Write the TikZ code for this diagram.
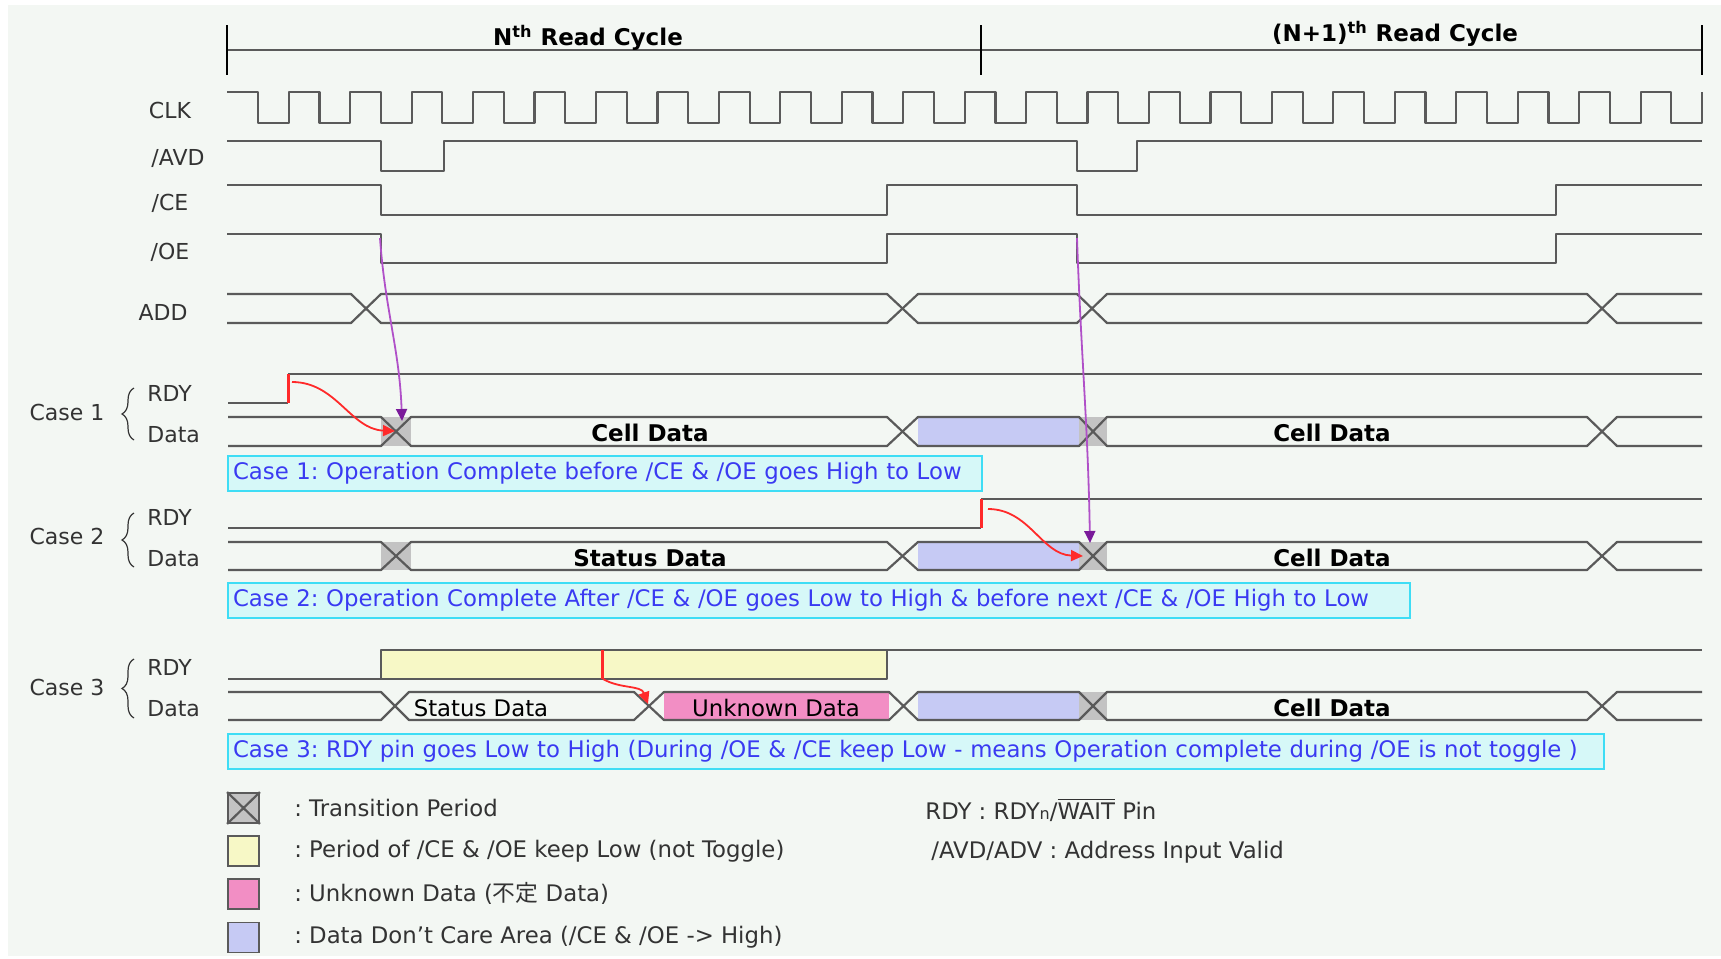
\documentclass[tikz,border=0pt]{standalone}
\usepackage{fontspec}
\setmainfont{DejaVu Sans}
\newfontfamily\jpfont{Noto Sans CJK JP}
\usetikzlibrary{arrows.meta,calc,positioning,decorations.pathreplacing}
\definecolor{Paper}{HTML}{F3F7F3}
\definecolor{Wire}{HTML}{5A5A5A}
\definecolor{Ink}{HTML}{333333}
\definecolor{Trans}{HTML}{C3C3C3}
\definecolor{Lav}{HTML}{C6CAF4}
\definecolor{Rose}{HTML}{F28EC4}
\definecolor{Cream}{HTML}{F7F8C6}
\definecolor{CapFill}{HTML}{D6F8F8}
\definecolor{CapLine}{HTML}{3EDDF5}
\definecolor{CapText}{HTML}{3A3AF2}
\definecolor{Hot}{HTML}{FF2A2A}
\definecolor{Plum}{HTML}{B050C8}
\definecolor{PlumDk}{HTML}{7A1A9A}
\frenchspacing

\begin{document}
\begin{tikzpicture}[x=0.5pt,y=-0.5pt,
  every node/.style={font=\fontsize{11}{13}\selectfont,text=Ink,inner sep=0pt},
  wire/.style={draw=Wire,line width=1.1pt,line join=round},
  hotedge/.style={draw=Hot,line width=1.5pt},
  redarr/.style={-{Triangle[length=6pt,width=5.5pt]},Hot,line width=0.9pt},
  purarr/.style={-{Triangle[length=6pt,width=5.5pt,color=PlumDk]},Plum,line width=0.9pt},
  busname/.style={font=\fontsize{11.5}{13}\selectfont\bfseries,text=black},
  busplain/.style={font=\fontsize{11.4}{13}\selectfont,text=black},
  capbox/.style={draw=CapLine,fill=CapFill,line width=1pt,text=CapText,font=\fontsize{11.4}{13}\selectfont,inner xsep=2.5pt,minimum height=17.5pt,align=left,anchor=west},
  lgbox/.style={draw=Wire,line width=0.9pt,minimum width=15.5pt,minimum height=15pt},
  lgtext/.style={font=\fontsize{11.4}{13}\selectfont,text=Ink},
  brace/.style={draw=Ink,line width=0.6pt,decorate,decoration={brace,amplitude=6pt}}
]
  \useasboundingbox (0,0) rectangle (1721,959);
  \fill[Paper] (8,5) rectangle (1721,956);

  % cycle bar
  \draw[wire] (227,50) -- (1702,50);
  \foreach \x in {227,981,1702} \draw[draw=black,line width=1.1pt] (\x,25) -- (\x,75);
  \node[busname] (cycN) at (588,38) {N\textsuperscript{th} Read Cycle};
  \node[busname] (cycN1) at (1395,34) {(N+1)\textsuperscript{th} Read Cycle};

  % signal names
  \node (clk) at (170,110) {CLK};
  \node (avd) at (178,158) {/AVD};
  \node (ce) at (170,203) {/CE};
  \node (oe) at (170,252) {/OE};
  \node (add) at (163,312) {ADD};

  % CLK
  \draw[wire] (227,92) \foreach \k in {0,...,23} {
    -- ({258+61.45*\k},92) -- ({258+61.45*\k},123) -- ({288.7+61.45*\k},123) -- ({288.7+61.45*\k},92) };
  % /AVD /CE /OE
  \draw[wire] (227,141) -- (381,141) -- (381,171) -- (444,171) -- (444,141) -- (1077,141) -- (1077,171) -- (1137,171) -- (1137,141) -- (1702,141);
  \draw[wire] (227,185) -- (381,185) -- (381,215) -- (887,215) -- (887,185) -- (1077,185) -- (1077,215) -- (1556,215) -- (1556,185) -- (1702,185);
  \draw[wire] (227,234) -- (381,234) -- (381,263) -- (887,263) -- (887,234) -- (1077,234) -- (1077,263) -- (1556,263) -- (1556,234) -- (1702,234);
  % ADD
  \draw[wire] (227,294) -- (351,294) -- (381,323) -- (887,323) -- (918,294) -- (1077,294) -- (1107,323) -- (1587,323) -- (1617,294) -- (1702,294);
  \draw[wire] (227,323) -- (351,323) -- (381,294) -- (887,294) -- (918,323) -- (1077,323) -- (1107,294) -- (1587,294) -- (1617,323) -- (1702,323);

  % case 1
  \node (case1) at (67,412) {Case 1};
  \draw[brace] (134,440) -- (134,388);
  \node[anchor=west] (rdy1) at (147,393) {RDY};
  \node[anchor=west] (dat1) at (147,435) {Data};
  \draw[wire] (228,403) -- (288,403);
  \draw[wire] (288,374) -- (1702,374);
  \draw[hotedge] (288,403) -- (288,374);
  \fill[Trans] (381,417) rectangle (411,446);
  \fill[Lav] (918,417) rectangle (1079,446);
  \fill[Trans] (1079,417) rectangle (1107,446);
  \draw[wire] (228,417) -- (381,417) -- (411,446) -- (887,446) -- (918,417) -- (1079,417) -- (1107,446) -- (1587,446) -- (1617,417) -- (1702,417);
  \draw[wire] (228,446) -- (381,446) -- (411,417) -- (887,417) -- (918,446) -- (1079,446) -- (1107,417) -- (1587,417) -- (1617,446) -- (1702,446);
  \node[busname] (cell1a) at (650,433) {Cell Data};
  \node[busname] (cell1b) at (1332,433) {Cell Data};
  \node[capbox,text width=372pt] (cap1) at (227,473) {Case 1: Operation Complete before /CE \& /OE goes High to Low};

  % case 2
  \node (case2) at (67,536) {Case 2};
  \draw[brace] (134,567) -- (134,513);
  \node[anchor=west] (rdy2) at (147,517) {RDY};
  \node[anchor=west] (dat2) at (147,559) {Data};
  \draw[wire] (228,528) -- (981,528);
  \draw[wire] (981,499) -- (1702,499);
  \draw[hotedge] (981,528) -- (981,499);
  \fill[Trans] (381,542) rectangle (411,570);
  \fill[Lav] (918,542) rectangle (1079,570);
  \fill[Trans] (1079,542) rectangle (1107,570);
  \draw[wire] (228,542) -- (381,542) -- (411,570) -- (887,570) -- (918,542) -- (1079,542) -- (1107,570) -- (1587,570) -- (1617,542) -- (1702,542);
  \draw[wire] (228,570) -- (381,570) -- (411,542) -- (887,542) -- (918,570) -- (1079,570) -- (1107,542) -- (1587,542) -- (1617,570) -- (1702,570);
  \node[busname] (stat2) at (650,558) {Status Data};
  \node[busname] (cell2) at (1332,558) {Cell Data};
  \node[capbox,text width=586pt] (cap2) at (227,600) {Case 2: Operation Complete After /CE \& /OE goes Low to High \& before next /CE \& /OE High to Low};

  % case 3
  \node (case3) at (67,687) {Case 3};
  \draw[brace] (134,718) -- (134,659);
  \node[anchor=west] (rdy3) at (147,667) {RDY};
  \node[anchor=west] (dat3) at (147,709) {Data};
  \draw[wire] (228,679) -- (381,679);
  \draw[wire,fill=Cream] (381,650) rectangle (887,679);
  \draw[wire] (887,650) -- (1702,650);
  \draw[hotedge] (602,650) -- (602,679);
  \fill[Rose] (664,692) rectangle (889,720);
  \fill[Lav] (918,692) rectangle (1079,720);
  \fill[Trans] (1079,692) rectangle (1107,720);
  \draw[wire] (228,692) -- (381,692) -- (409,720) -- (634,720) -- (664,692) -- (889,692) -- (918,720) -- (1079,720) -- (1107,692) -- (1587,692) -- (1617,720) -- (1702,720);
  \draw[wire] (228,720) -- (381,720) -- (409,692) -- (634,692) -- (664,720) -- (889,720) -- (918,692) -- (1079,692) -- (1107,720) -- (1587,720) -- (1617,692) -- (1702,692);
  \node[busplain] (stat3) at (481,708) {Status Data};
  \node[busplain] (unk3) at (776,708) {Unknown Data};
  \node[busname] (cell3) at (1332,708) {Cell Data};
  \node[capbox,text width=683pt] (cap3) at (227,751) {Case 3: RDY pin goes Low to High (During /OE \& /CE keep Low - means Operation complete during /OE is not toggle )};

  % arrows
  \coordinate (oe1) at (380,238);
  \coordinate (d1x) at (402,421);
  \coordinate (oe2) at (1077,238);
  \coordinate (d2x) at (1090,543);
  \coordinate (r1a) at (292,382);
  \coordinate (r1b) at (395,431);
  \coordinate (r2a) at (988,509);
  \coordinate (r2b) at (1083,556);
  \coordinate (r3a) at (603,679);
  \coordinate (r3b) at (648,704);
  \draw[purarr] (oe1) to[out=-86,in=92] (d1x);
  \draw[purarr] (oe2) to[out=-88,in=91] (d2x);
  \draw[redarr] (r1a) to[out=0,in=178] (r1b);
  \draw[redarr] (r2a) to[out=0,in=178] (r2b);
  \draw[redarr] (r3a) to[out=-30,in=110] (r3b);

  % legend
  \node[lgbox,fill=Trans] (lgT) at (243.5,808) {};
  \draw[wire] (lgT.north west) -- (lgT.south east) (lgT.south west) -- (lgT.north east);
  \node[lgbox,fill=Cream,below=5.5pt of lgT] (lgY) {};
  \node[lgbox,fill=Rose,below=5.5pt of lgY] (lgP) {};
  \node[lgbox,fill=Lav,below=6pt of lgP] (lgL) {};
  \node[lgtext,right=17pt of lgT] (lgTt) {: Transition Period};
  \node[lgtext,right=17pt of lgY] (lgYt) {: Period of /CE \& /OE keep Low (not Toggle)};
  \node[lgtext,right=17pt of lgP] (lgPt) {: Unknown Data ({\jpfont 不定} Data)};
  \node[lgtext,right=17pt of lgL] (lgLt) {: Data Don't Care Area (/CE \& /OE -> High)};
  \node[lgtext,anchor=west] (pinA) at (925,810) {RDY : RDY{\fontsize{8}{9}\selectfont n}/$\overline{\mbox{WAIT}}$ Pin};
  \node[lgtext,anchor=west] (pinB) at (931,852) {/AVD/ADV : Address Input Valid};
\end{tikzpicture}
\end{document}
